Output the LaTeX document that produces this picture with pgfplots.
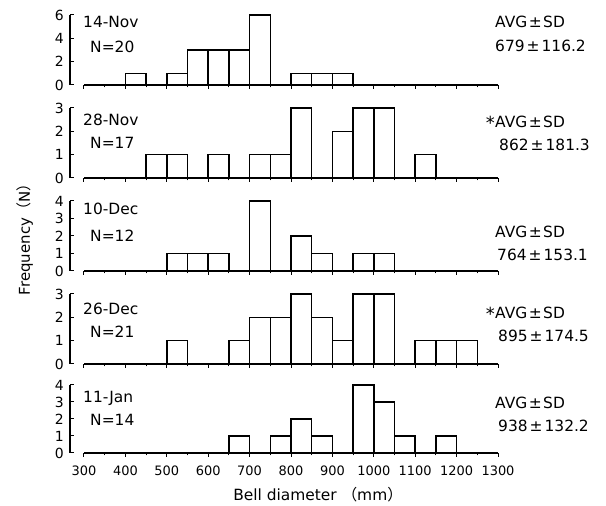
\documentclass[border=0pt]{standalone}
\usepackage{fontspec}
\setmainfont{DejaVu Sans}
\newfontfamily\cjk{Noto Sans CJK JP}
\usepackage{pgfplots}
\pgfplotsset{compat=1.18}
\pgfplotsset{
  panel/.style={
    width=428bp, scale only axis, height=70bp,
    xmin=266.2, xmax=1300, ymin=0,
    axis lines=left,
    axis line style={-, line width=1.5bp, black},
    x axis line style={shorten <=14bp},
    tick align=inside,
    xtick={300,400,...,1300},
    minor xtick={350,450,...,1250},
    xticklabels={},
    major tick length=4bp, minor tick length=2.5bp,
    tick style={black, line width=1bp},
    /pgf/number format/assume math mode=true,
    yticklabel style={font=\fontsize{14}{14}\selectfont, inner sep=1bp, xshift=-5bp},
    clip=false,
    ybar, bar width=50, bar shift=0pt,
  },
  hbar/.style={draw=black, fill=white, line width=1.5bp},
}
\newcommand{\avg}{AVG\hspace{1.5bp}±\hspace{1.5bp}SD}
\newcommand{\st}{\raisebox{-2.5bp}{\fontsize{18}{18}\selectfont *}\hspace{0.5bp}}
\begin{document}
\begin{tikzpicture}[x=1bp,y=1bp]
\path[use as bounding box] (0,0) rectangle (606,506);

% 14-Nov
\begin{axis}[panel, at={(70bp,421bp)}, anchor=south west, ymax=6, ytick={0,2,4,6}]
\addplot[hbar] coordinates {(425,1) (525,1) (575,3) (625,3) (675,3) (725,6) (825,1) (875,1) (925,1)};
\end{axis}

% 28-Nov
\begin{axis}[panel, at={(70bp,328bp)}, anchor=south west, ymax=3, ytick={0,1,2,3}]
\addplot[hbar] coordinates {(475,1) (525,1) (625,1) (725,1) (775,1) (825,3) (925,2) (975,3) (1025,3) (1125,1)};
\end{axis}

% 10-Dec
\begin{axis}[panel, at={(70bp,235bp)}, anchor=south west, ymax=4, ytick={0,1,2,3,4}]
\addplot[hbar] coordinates {(525,1) (575,1) (625,1) (725,4) (825,2) (875,1) (975,1) (1025,1)};
\end{axis}

% 26-Dec
\begin{axis}[panel, at={(70bp,142bp)}, anchor=south west, ymax=3, ytick={0,1,2,3}]
\addplot[hbar] coordinates {(525,1) (675,1) (725,2) (775,2) (825,3) (875,2) (925,1) (975,3) (1025,3) (1125,1) (1175,1) (1225,1)};
\end{axis}

% 11-Jan
\begin{axis}[panel, at={(70bp,53bp)}, anchor=south west, ymax=4, ytick={0,1,2,3,4}, height=68bp,
  xticklabels={300,400,500,600,700,800,900,1000,1100,1200,1300},
  xticklabel style={font=\fontsize{13}{13}\selectfont, yshift=-5bp}]
\addplot[hbar] coordinates {(675,1) (775,1) (825,2) (875,1) (975,4) (1025,3) (1075,1) (1175,1)};
\end{axis}

% left labels
\begin{scope}[every node/.style={anchor=west, inner sep=0pt, font=\fontsize{15.5}{15.5}\selectfont}]
\node at (83,484) {14-Nov};  \node at (90,459) {N=20};
\node at (83,386) {28-Nov};  \node at (90,363) {N=17};
\node at (83,297) {10-Dec};  \node at (90,270) {N=12};
\node at (83,197) {26-Dec};  \node at (90,174) {N=21};
\node at (83,108) {11-Jan};  \node at (90,86)  {N=14};
\end{scope}

% right labels
\begin{scope}[every node/.style={anchor=west, inner sep=0pt, font=\fontsize{15.5}{15.5}\selectfont}]
\node at (495,484) {\avg};
\node at (495,460) {679\hspace{2bp}±\hspace{2bp}116.2};
\node[anchor=base east] at (495,379) {\st};
\node at (495,384) {\avg};
\node at (499,361) {862\hspace{2bp}±\hspace{2bp}181.3};
\node at (495,274) {\avg};
\node at (497,251) {764\hspace{2bp}±\hspace{2bp}153.1};
\node[anchor=base east] at (495,188) {\st};
\node at (495,193) {\avg};
\node at (498,170) {895\hspace{2bp}±\hspace{2bp}174.5};
\node at (495,103) {\avg};
\node at (498,80)  {938\hspace{2bp}±\hspace{2bp}132.2};
\end{scope}

% axis titles
\node[rotate=90, inner sep=0pt, font=\fontsize{15}{15}\selectfont] at (25,270) {Frequency{\cjk （}N{\cjk ）}};
\node[inner sep=0pt, font=\fontsize{15.5}{15.5}\selectfont] at (318,11) {Bell diameter {\cjk （}mm{\cjk ）}};
\end{tikzpicture}
\end{document}
